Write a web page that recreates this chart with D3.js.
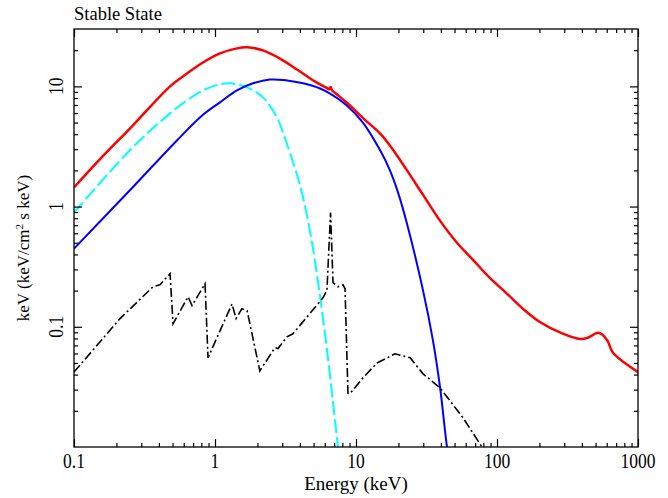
<!DOCTYPE html>
<html>
<head>
<meta charset="utf-8">
<script src="https://cdn.jsdelivr.net/npm/d3@7"></script>
<style>
  body { margin: 0; background: #fff; }
  text { font-family: "Liberation Serif", "DejaVu Serif", serif; fill: #000; }
</style>
</head>
<body>
<div id="chart"></div>
<script>
// total model (red)
var redE = [0.1, 0.15, 0.26, 0.48, 0.633, 0.822, 1.085, 1.43, 1.69, 2.19, 2.89, 3.82, 5.1, 6.2, 6.45, 6.6, 6.75, 7.3, 8.63, 11.2, 14.8, 17.4, 23, 29.9, 39.5, 52, 67.6, 89, 118, 153, 200, 290, 390, 440, 520, 560, 610, 665, 1000];
var redF = [1.44, 2.42, 4.7, 10, 12.8, 15.8, 18.8, 20.7, 21.1, 19.9, 17.0, 13.8, 11.0, 9.7, 9.45, 9.9, 9.3, 8.6, 7.3, 5.45, 4.06, 3.22, 2.0, 1.25, 0.76, 0.5, 0.36, 0.255, 0.188, 0.141, 0.11, 0.088, 0.079, 0.081, 0.089, 0.086, 0.076, 0.0607, 0.042];

// comptonised component (blue)
var blueE = [0.1, 0.26, 0.537, 0.822, 1.085, 1.43, 1.86, 2.45, 3.24, 4.21, 5.56, 6.5, 8.6, 11.2, 14.8, 17.4, 19.9, 23, 29.9, 35.2, 39.5, 44.2, 47];
var blueF = [0.447, 1.44, 3.55, 5.8, 7.36, 9.26, 10.6, 11.4, 11.2, 10.6, 9.6, 8.74, 6.94, 5.0, 2.95, 2.0, 1.3, 0.72, 0.2, 0.076, 0.031, 0.01, 0.0065];

// disk blackbody (cyan, dashed)
var cyanE = [0.1, 0.26, 0.48, 0.633, 0.822, 1.085, 1.28, 1.69, 2.19, 2.75, 3.04, 4.01, 4.72, 5.29, 6.22, 7.45, 7.8];
var cyanF = [0.891, 3.1, 5.96, 7.65, 9.26, 10.4, 10.6, 9.8, 8.1, 5.52, 4.1, 1.5, 0.62, 0.27, 0.065, 0.01, 0.0065];

// reflection (black, dash-dot)
var blackE = [0.1, 0.212, 0.363, 0.407, 0.48, 0.504, 0.644, 0.687, 0.85, 0.892, 1.32, 1.41, 1.55, 1.69, 2.08, 2.66, 2.80, 3.24, 3.57, 5.83, 6.22, 6.6, 6.87, 7.45, 8.09, 8.36, 8.77, 9.06, 11.2, 14.1, 18.9, 24.2, 29.9, 39.5, 57.4, 78.3, 85];
var blackF = [0.042, 0.117, 0.215, 0.224, 0.277, 0.106, 0.178, 0.15, 0.228, 0.0552, 0.155, 0.117, 0.141, 0.136, 0.043, 0.067, 0.066, 0.0826, 0.0875, 0.174, 0.2, 0.89, 0.233, 0.215, 0.224, 0.207, 0.028, 0.0278, 0.0376, 0.05, 0.0596, 0.0552, 0.0406, 0.031, 0.0175, 0.01, 0.0085];

// ticks
var xMajor = [0.1, 1, 10, 100, 1000];
var xLabels = ["0.1", "1", "10", "100", "1000"];
var yMajor = [0.1, 1, 10];
var yLabels = ["0.1", "1", "10"];

var W = 668, H = 498;
var pL = 74, pR = 638, pT = 29, pB = 447;

var svg = d3.select("#chart").append("svg")
  .attr("width", W)
  .attr("height", H);

var x = d3.scaleLog().domain([0.1, 1000]).range([pL, pR]);
var y = d3.scaleLog().domain([0.01, 30]).range([pB, pT]);

// minor ticks: 2..9 in each decade
var xMinor = [];
xMajor.slice(0, -1).forEach(function (d) {
  for (var k = 2; k <= 9; k++) xMinor.push(d * k);
});
var yMinor = [];
[0.01, 0.1, 1, 10].forEach(function (d) {
  for (var k = 2; k <= 9; k++) if (d * k < 30) yMinor.push(d * k);
});

svg.append("defs").append("clipPath").attr("id", "plotclip")
  .append("rect")
  .attr("x", pL).attr("y", pT)
  .attr("width", pR - pL).attr("height", pB - pT);

var line = d3.line()
  .x(function (d) { return x(d[0]); })
  .y(function (d) { return y(d[1]); });

function pairs(e, f) { return e.map(function (v, i) { return [v, f[i]]; }); }

var plot = svg.append("g").attr("clip-path", "url(#plotclip)");

plot.append("path")
  .datum(pairs(cyanE, cyanF))
  .attr("d", line.curve(d3.curveCatmullRom.alpha(0.5)))
  .style("fill", "none")
  .style("stroke", "#00ffff")
  .style("stroke-width", 2)
  .style("stroke-dasharray", "14,4");

plot.append("path")
  .datum(pairs(blueE, blueF))
  .attr("d", line.curve(d3.curveCatmullRom.alpha(0.5)))
  .style("fill", "none")
  .style("stroke", "#0000ff")
  .style("stroke-width", 2);

plot.append("path")
  .datum(pairs(blackE, blackF))
  .attr("d", line.curve(d3.curveLinear))
  .style("fill", "none")
  .style("stroke", "#000")
  .style("stroke-width", 1.6)
  .style("stroke-dasharray", "9,3,2,3");

plot.append("path")
  .datum(pairs(redE, redF))
  .attr("d", line.curve(d3.curveCatmullRom.alpha(0.5)))
  .style("fill", "none")
  .style("stroke", "#ff0000")
  .style("stroke-width", 2.5);

// axes, ticks pointing inward on all four sides
svg.append("g").attr("transform", "translate(0," + pB + ")")
  .call(d3.axisBottom(x).tickValues(xMajor).tickSize(-8).tickFormat(""));
svg.append("g").attr("transform", "translate(0," + pB + ")")
  .call(d3.axisBottom(x).tickValues(xMinor).tickSize(-4).tickFormat(""));
svg.append("g").attr("transform", "translate(0," + pT + ")")
  .call(d3.axisTop(x).tickValues(xMajor).tickSize(-8).tickFormat(""));
svg.append("g").attr("transform", "translate(0," + pT + ")")
  .call(d3.axisTop(x).tickValues(xMinor).tickSize(-4).tickFormat(""));
svg.append("g").attr("transform", "translate(" + pL + ",0)")
  .call(d3.axisLeft(y).tickValues(yMajor).tickSize(-8).tickFormat(""));
svg.append("g").attr("transform", "translate(" + pL + ",0)")
  .call(d3.axisLeft(y).tickValues(yMinor).tickSize(-4).tickFormat(""));
svg.append("g").attr("transform", "translate(" + pR + ",0)")
  .call(d3.axisRight(y).tickValues(yMajor).tickSize(-8).tickFormat(""));
svg.append("g").attr("transform", "translate(" + pR + ",0)")
  .call(d3.axisRight(y).tickValues(yMinor).tickSize(-4).tickFormat(""));

svg.selectAll(".domain").remove();
svg.selectAll(".tick line").style("stroke", "#000").style("stroke-width", 1.2);

svg.append("rect")
  .attr("x", pL).attr("y", pT)
  .attr("width", pR - pL).attr("height", pB - pT)
  .style("fill", "none")
  .style("stroke", "#000")
  .style("stroke-width", 1.3);

// tick labels (tall glyphs)
svg.selectAll(".xlab")
  .data(xMajor)
  .enter().append("text")
  .attr("class", "xlab")
  .attr("transform", function (d) { return "translate(" + x(d) + ",468) scale(1,1.25)"; })
  .attr("text-anchor", "middle")
  .style("font-size", "17.5px")
  .text(function (d, i) { return xLabels[i]; });

svg.selectAll(".ylab")
  .data(yMajor)
  .enter().append("text")
  .attr("class", "ylab")
  .attr("transform", function (d) { return "translate(63," + y(d) + ") rotate(-90) scale(1,1.25)"; })
  .attr("text-anchor", "middle")
  .style("font-size", "17.5px")
  .text(function (d, i) { return yLabels[i]; });

svg.append("text")
  .attr("x", 74).attr("y", 20)
  .style("font-size", "18.5px")
  .text("Stable State");

svg.append("text")
  .attr("x", (pL + pR) / 2).attr("y", 490)
  .attr("text-anchor", "middle")
  .style("font-size", "19px")
  .text("Energy (keV)");

var ylab = svg.append("text")
  .attr("transform", "translate(29,248) rotate(-90)")
  .attr("text-anchor", "middle")
  .style("font-size", "17px");
ylab.append("tspan").text("keV (keV/cm");
ylab.append("tspan").attr("dy", -6).style("font-size", "11px").text("2");
ylab.append("tspan").attr("dy", 6).text(" s keV)");
</script>
</body>
</html>
